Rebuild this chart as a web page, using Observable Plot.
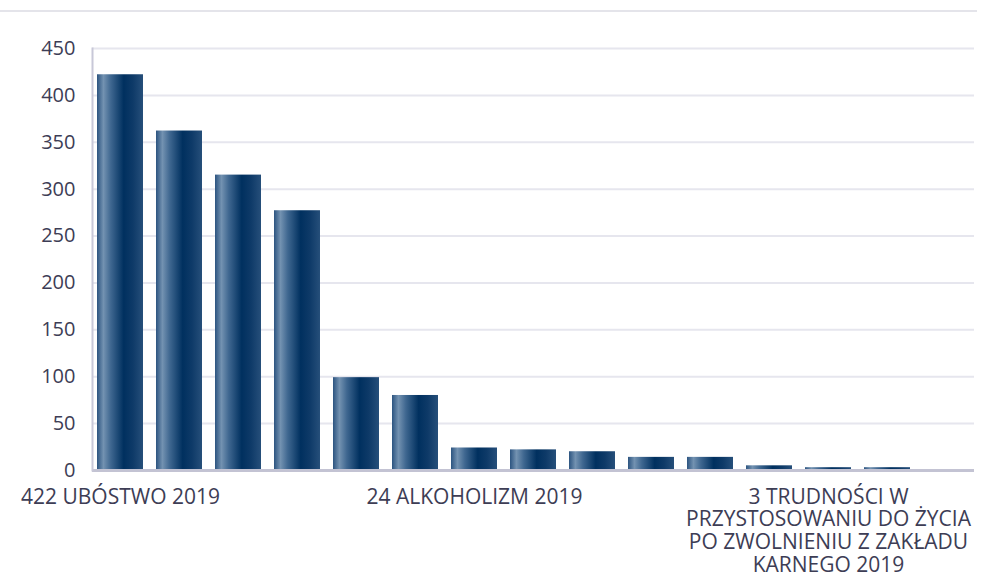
<!DOCTYPE html>
<html>
<head>
<meta charset="utf-8">
<script src="https://cdn.jsdelivr.net/npm/d3@7"></script>
<script src="https://cdn.jsdelivr.net/npm/@observablehq/plot@0.6"></script>
<style>
  html, body { margin: 0; padding: 0; background: #fff; }
  #topline { width: 977px; height: 10px; border-bottom: 2px solid #e4e4ea; }
  #chart svg { display: block; }
</style>
</head>
<body>
<div id="topline"></div>
<div id="chart"></div>
<script>
// Category slots (index order as in the chart)
const slots = [0, 1, 2, 3, 4, 5, 6, 7, 8, 9, 10, 11, 12, 13, 14];
const values = [422, 362, 315, 277, 99, 80, 24, 22, 20, 14, 14, 5, 3, 3, 0];
// Only these slots carry a visible label
const labelSlots = [0, 6, 12];
const tickLabels = [
  "422 UBÓSTWO 2019",
  "24 ALKOHOLIZM 2019",
  "3 TRUDNOŚCI W\nPRZYSTOSOWANIU DO ŻYCIA\nPO ZWOLNIENIU Z ZAKŁADU\nKARNEGO 2019"
];
const yTicks = [0, 50, 100, 150, 200, 250, 300, 350, 400, 450];

const data = slots.map((s, i) => ({slot: s, value: values[i]}));
const labelOf = new Map(labelSlots.map((s, i) => [s, tickLabels[i]]));

const chart = Plot.plot({
  width: 993,
  height: 562,
  marginLeft: 92,
  marginRight: 19,
  marginTop: 36,
  marginBottom: 104,
  style: {fontFamily: "'Open Sans', sans-serif", fontSize: "20px", color: "#3d3d55", background: "#fff"},
  x: {domain: slots, paddingInner: 0.22, paddingOuter: 0.068, axis: null},
  y: {domain: [0, 450], axis: null},
  marks: [
    () => {
      const ns = "http://www.w3.org/2000/svg";
      const defs = document.createElementNS(ns, "defs");
      defs.innerHTML = `<linearGradient id="barGrad" x1="0" x2="1" y1="0" y2="0">
        <stop offset="0%" stop-color="#2c5480"/>
        <stop offset="14%" stop-color="#7392b1"/>
        <stop offset="30%" stop-color="#3f6790"/>
        <stop offset="58%" stop-color="#00305f"/>
        <stop offset="78%" stop-color="#0e3a68"/>
        <stop offset="100%" stop-color="#264f7a"/>
      </linearGradient>`;
      return defs;
    },
    Plot.gridY(yTicks.filter(d => d > 0), {stroke: "#e6e6ee", strokeOpacity: 1, strokeWidth: 2}),
    Plot.barY(data, {x: "slot", y: "value", fill: "url(#barGrad)"}),
    Plot.ruleY([0], {stroke: "#c3c3d3", strokeWidth: 3}),
    Plot.frame({anchor: "left", stroke: "#c8c8d8", strokeWidth: 2}),
    Plot.axisY(yTicks, {tickSize: 0, tickPadding: 17, fontSize: 20, fill: "#3d3d55", label: null}),
    Plot.axisX(labelSlots, {tickSize: 0, tickPadding: 17, fontSize: 21, fill: "#3d3d55", lineHeight: 1.08, label: null, tickFormat: d => labelOf.get(d), style: {letterSpacing: "0.5px"}})
  ]
});
document.getElementById("chart").appendChild(chart);
</script>
</body>
</html>
